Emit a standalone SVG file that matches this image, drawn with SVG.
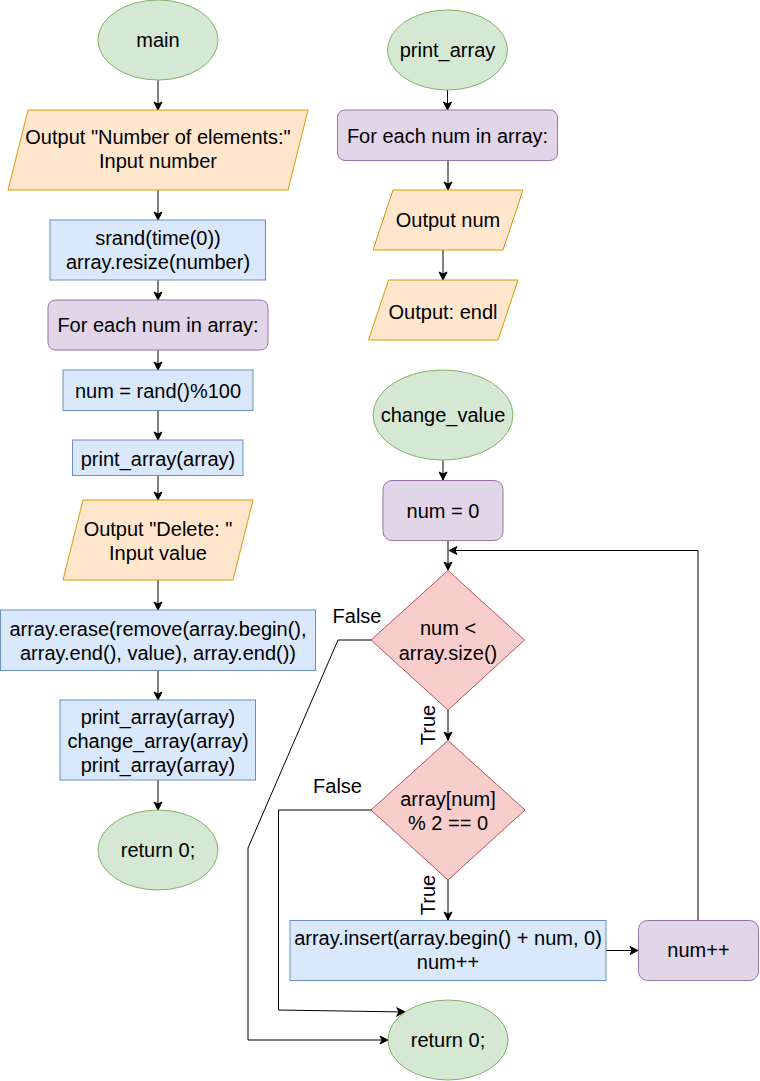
<svg xmlns="http://www.w3.org/2000/svg" width="760" height="1081" viewBox="0 0 760 1081">
<style>
text{font-family:"Liberation Sans",Arial,sans-serif;font-size:20px;fill:#000;text-anchor:middle}
.term{fill:#d5e8d4;stroke:#82b366;stroke-width:1}
.io{fill:#ffe6cc;stroke:#d79b00;stroke-width:1}
.proc{fill:#dae8fc;stroke:#6c8ebf;stroke-width:1}
.loop{fill:#e1d5e7;stroke:#9673a6;stroke-width:1}
.dec{fill:#f8cecc;stroke:#b85450;stroke-width:1}
.edge{fill:none;stroke:#000;stroke-width:1;marker-end:url(#arr)}
.line{fill:none;stroke:#000;stroke-width:1}
</style>
<defs>
<marker id="arr" markerUnits="userSpaceOnUse" markerWidth="9" markerHeight="9" refX="8" refY="4" orient="auto" overflow="visible">
<path d="M0,0 L8,4 L0,8 L2,4 Z" fill="#000" stroke="#000" stroke-width="1"/>
</marker>
</defs>
<rect width="760" height="1081" fill="#fff"/>
<g id="connectors">
<path class="edge" d="M158,80 V110"/>
<path class="edge" d="M158,190 V220"/>
<path class="edge" d="M158,280 V300"/>
<path class="edge" d="M158,350 V370"/>
<path class="edge" d="M158,410 V440"/>
<path class="edge" d="M158,476 V500"/>
<path class="edge" d="M158,580 V610"/>
<path class="edge" d="M158,670 V700"/>
<path class="edge" d="M158,780 V810"/>
<path class="edge" d="M447.5,90 V110"/>
<path class="edge" d="M448,160 V190"/>
<path class="edge" d="M443,250 V280"/>
<path class="edge" d="M443,460 V480"/>
<path class="edge" d="M448,540 V570"/>
<path class="edge" d="M448,710 V740"/>
<path class="edge" d="M448,880 V920"/>
<path class="edge" d="M606,950.5 H638"/>
<path class="edge" d="M698,920 V550.5 H449"/>
<path class="edge" d="M371,640 H338 L248,848 V1040 H388"/>
<path class="edge" d="M371,810 H278.5 V1010 L405,1012"/>
<text x="357" y="623">False</text>
<text x="337.5" y="793">False</text>
<text transform="translate(428,725) rotate(-90)" y="7">True</text>
<text transform="translate(428,895) rotate(-90)" y="7">True</text>
</g>
<g id="main">
<ellipse class="term" cx="158" cy="40" rx="60" ry="40"/>
<text x="158" y="47">main</text>
</g>
<g id="input_number">
<polygon class="io" points="28,110 308,110 288,190 8,190"/>
<text x="158" y="144">Output "Number of elements:"</text>
<text x="158" y="168">Input number</text>
</g>
<g id="srand">
<rect class="proc" x="50" y="220" width="215.5" height="60"/>
<text x="158" y="245">srand(time(0))</text>
<text x="158" y="269">array.resize(number)</text>
</g>
<g id="foreach_main">
<rect class="loop" x="48" y="300" width="220" height="50" rx="7.5"/>
<text x="158" y="332">For each num in array:</text>
</g>
<g id="rand">
<rect class="proc" x="63" y="370" width="190" height="40.5"/>
<text x="158" y="398">num = rand()%100</text>
</g>
<g id="print1">
<rect class="proc" x="72.5" y="440" width="170.5" height="35.5"/>
<text x="158" y="466">print_array(array)</text>
</g>
<g id="input_value">
<polygon class="io" points="83,500 253,500 233,580 63,580"/>
<text x="158" y="536">Output "Delete: "</text>
<text x="158" y="560">Input value</text>
</g>
<g id="erase">
<rect class="proc" x="0.5" y="610" width="315" height="60.5"/>
<text x="158" y="636">array.erase(remove(array.begin(),</text>
<text x="158" y="660">array.end(), value), array.end())</text>
</g>
<g id="calls">
<rect class="proc" x="60" y="700" width="195.5" height="80"/>
<text x="158" y="724">print_array(array)</text>
<text x="158" y="748">change_array(array)</text>
<text x="158" y="772">print_array(array)</text>
</g>
<g id="return_main">
<ellipse class="term" cx="158" cy="850" rx="60" ry="40"/>
<text x="158" y="857">return 0;</text>
</g>
<g id="print_array">
<ellipse class="term" cx="447.5" cy="50" rx="60" ry="40"/>
<text x="447.5" y="57">print_array</text>
</g>
<g id="foreach_print">
<rect class="loop" x="337.5" y="110" width="220" height="50.5" rx="7.5"/>
<text x="447.5" y="143">For each num in array:</text>
</g>
<g id="output_num">
<polygon class="io" points="393,190 523,190 503,250 373,250"/>
<text x="448" y="227">Output num</text>
</g>
<g id="output_endl">
<polygon class="io" points="388.5,280 518,280 498,340 368.5,340"/>
<text x="443" y="319">Output: endl</text>
</g>
<g id="change_value">
<ellipse class="term" cx="443" cy="415" rx="70" ry="45"/>
<text x="443" y="422">change_value</text>
</g>
<g id="num_zero">
<rect class="loop" x="383" y="480.5" width="120" height="60" rx="9"/>
<text x="443" y="518">num = 0</text>
</g>
<g id="cond_size">
<polygon class="dec" points="448,570.5 524.5,640 448,710 371,640"/>
<text x="448" y="635">num &lt;</text>
<text x="448" y="660">array.size()</text>
</g>
<g id="cond_even">
<polygon class="dec" points="448,740.5 525,810 448,880 371,810"/>
<text x="448" y="806">array[num]</text>
<text x="448" y="830">% 2 == 0</text>
</g>
<g id="insert">
<rect class="proc" x="290" y="920.5" width="316" height="60"/>
<text x="448" y="945">array.insert(array.begin() + num, 0)</text>
<text x="448" y="969">num++</text>
</g>
<g id="num_inc">
<rect class="loop" x="638.5" y="920.5" width="120" height="60" rx="9"/>
<text x="698.5" y="957">num++</text>
</g>
<g id="return_change">
<ellipse class="term" cx="448" cy="1040" rx="60" ry="40"/>
<text x="448" y="1047">return 0;</text>
</g>
</svg>
